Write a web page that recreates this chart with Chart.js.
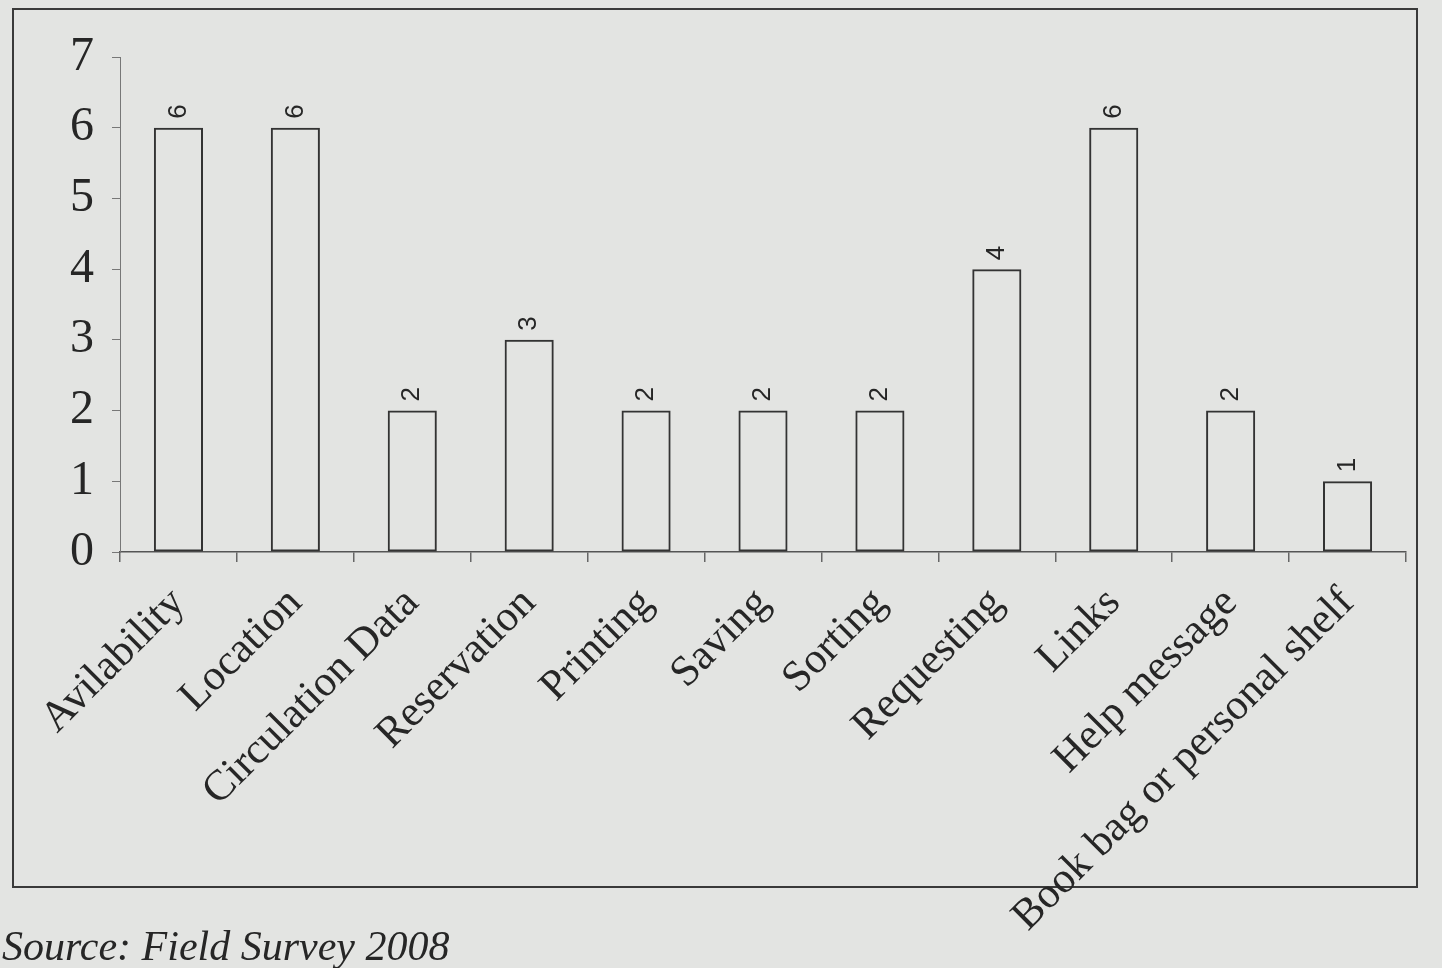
<!DOCTYPE html>
<html>
<head>
<meta charset="utf-8">
<script src="https://cdn.jsdelivr.net/npm/chart.js@4"></script>
<style>
  html, body { margin: 0; padding: 0; background: #e3e4e2; }
  #wrap { position: relative; width: 1442px; height: 968px; overflow: hidden; }
  #frame { position: absolute; left: 12px; top: 8px; width: 1406px; height: 880px;
           border: 2px solid #3a3a3a; box-sizing: border-box; }
  #source { position: absolute; left: 2px; top: 922px; font: italic 42px "Liberation Serif", serif;
            color: #262626; }
  canvas { position: absolute; left: 0; top: 0; }
</style>
</head>
<body>
<div id="wrap">
  <div id="frame"></div>
  <canvas id="featureChart" width="1442" height="968"></canvas>
  <div id="source">Source: Field Survey 2008</div>
</div>
<script>
// Features of OPAC used - counts from the field survey
var categories = [
  'Avilability', 'Location', 'Circulation Data', 'Reservation', 'Printing',
  'Saving', 'Sorting', 'Requesting', 'Links', 'Help message', 'Book bag or personal shelf'
];
var counts = [6, 6, 2, 3, 2, 2, 2, 4, 6, 2, 1];
var yTicks = [0, 1, 2, 3, 4, 5, 6, 7];

var ink = '#262626';

// value labels, rotated to read bottom-to-top, sitting on top of each bar
var valueLabels = {
  id: 'valueLabels',
  afterDatasetsDraw: function (chart) {
    var c = chart.ctx;
    var meta = chart.getDatasetMeta(0);
    c.save();
    c.fillStyle = ink;
    c.font = '26px "Liberation Sans", Arial, sans-serif';
    c.textAlign = 'left';
    c.textBaseline = 'middle';
    meta.data.forEach(function (bar, i) {
      c.save();
      c.translate(bar.x, bar.y - 9);
      c.rotate(-Math.PI / 2);
      c.fillText(String(counts[i]), 0, 0);
      c.restore();
    });
    c.restore();
  }
};

new Chart(document.getElementById('featureChart'), {
  type: 'bar',
  data: {
    labels: categories,
    datasets: [{
      data: counts,
      backgroundColor: 'rgba(0,0,0,0)',
      borderColor: '#333',
      borderWidth: 2,
      borderSkipped: false,
      barPercentage: 0.42,
      categoryPercentage: 1
    }]
  },
  options: {
    responsive: false,
    animation: false,
    layout: { padding: { top: 57, right: 36, left: 0, bottom: 0 } },
    plugins: {
      legend: { display: false },
      tooltip: { enabled: false }
    },
    scales: {
      x: {
        grid: { display: true, drawOnChartArea: false, tickLength: 10, color: '#666', lineWidth: 1.5 },
        border: { display: true, color: '#555', width: 1.5 },
        ticks: {
          color: ink,
          font: { family: '"Liberation Serif", "Times New Roman", serif', size: 43 },
          minRotation: 45,
          maxRotation: 45,
          autoSkip: false,
          padding: 16
        },
        afterFit: function (scale) { scale.height = 416; }
      },
      y: {
        min: 0,
        max: 7,
        afterBuildTicks: function (scale) {
          scale.ticks = yTicks.map(function (v) { return { value: v }; });
        },
        grid: { display: true, drawOnChartArea: false, tickLength: 8, color: '#777', lineWidth: 1 },
        border: { display: true, color: '#777', width: 1 },
        ticks: {
          color: ink,
          font: { family: '"Liberation Serif", "Times New Roman", serif', size: 48 },
          padding: 18
        },
        afterFit: function (scale) { scale.width = 120; }
      }
    }
  },
  plugins: [valueLabels]
});
</script>
</body>
</html>
